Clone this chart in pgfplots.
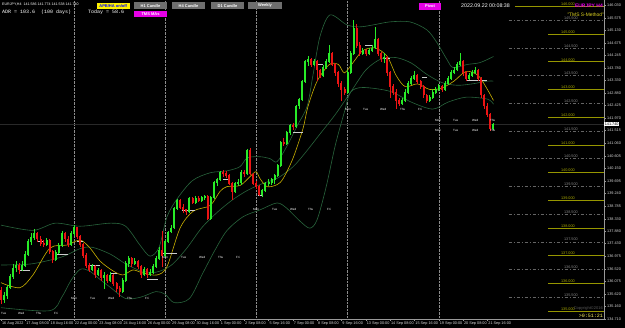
\documentclass[border=0pt]{standalone}
\usepackage{pgfplots}
\pgfplotsset{compat=1.18}
\usepackage{pgfplotstable}
\usepackage{fontspec}
\setmainfont{Liberation Sans}
\newfontfamily\monofont{Liberation Mono}
\definecolor{bull}{RGB}{40,235,40}
\definecolor{bear}{RGB}{235,20,20}
\definecolor{band}{RGB}{40,100,60}
\definecolor{maY}{RGB}{200,175,0}
\definecolor{lvl}{RGB}{150,150,0}
\definecolor{half}{RGB}{100,100,100}
\definecolor{btn}{RGB}{110,110,110}
\definecolor{mag}{RGB}{230,0,230}

\pgfplotstableread{
i O H L C
0 135.75 135.85 135.25 135.40
1 135.40 135.70 135.30 135.55
2 135.55 135.95 135.45 135.85
3 135.85 136.35 135.80 136.25
4 136.25 136.70 136.15 136.55
5 136.55 136.80 136.40 136.65
6 136.65 136.75 136.35 136.50
7 136.50 136.80 136.45 136.65
8 136.65 137.15 136.60 137.05
9 137.05 137.60 137.00 137.50
10 137.50 137.80 137.40 137.65
11 137.65 137.95 137.55 137.80
12 137.80 137.85 137.50 137.60
13 137.60 137.70 137.35 137.45
14 137.45 137.55 137.30 137.40
15 137.40 137.65 137.35 137.55
16 137.55 137.60 137.05 137.15
17 137.15 137.20 136.75 136.85
18 136.85 137.20 136.80 137.10
19 137.10 137.45 137.05 137.35
20 137.35 137.90 137.30 137.80
21 137.80 137.85 137.50 137.60
22 137.60 137.70 137.30 137.40
23 137.40 137.90 137.35 137.80
24 137.80 138.10 137.70 138.00
25 138.00 138.05 137.60 137.70
26 137.70 137.75 137.30 137.40
27 137.40 137.45 136.90 137.00
28 137.00 137.10 136.55 136.65
29 136.65 136.75 136.40 136.50
30 136.50 136.70 136.45 136.60
31 136.60 136.65 136.20 136.30
32 136.30 136.55 136.25 136.45
33 136.45 136.50 136.10 136.20
34 136.20 136.40 135.80 136.30
35 136.30 136.35 136.00 136.10
36 136.10 136.40 136.05 136.30
37 136.30 136.35 135.90 136.00
38 136.00 136.05 135.70 135.80
39 135.80 135.90 135.50 135.70
40 135.70 136.20 135.65 136.10
41 136.10 136.80 136.05 136.70
42 136.70 137.00 136.60 136.90
43 136.90 136.95 136.60 136.70
44 136.70 136.90 136.65 136.80
45 136.80 136.85 136.50 136.60
46 136.60 136.65 136.20 136.30
47 136.30 136.60 136.25 136.50
48 136.50 136.55 136.20 136.30
49 136.30 136.50 136.25 136.40
50 136.40 136.70 136.35 136.60
51 136.60 137.00 136.55 136.90
52 136.90 137.30 136.85 137.20
53 137.20 137.90 136.60 137.00
54 137.00 137.55 136.95 137.50
55 137.50 137.90 137.45 137.85
56 137.85 138.10 137.80 138.00
57 138.00 138.75 137.95 138.70
58 138.70 139.05 138.65 139.00
59 139.00 139.05 138.70 138.75
60 138.75 138.85 138.55 138.65
61 138.65 138.70 138.45 138.60
62 138.60 139.10 138.55 139.05
63 139.05 139.10 138.85 138.90
64 138.90 139.15 138.85 139.05
65 139.05 139.15 138.95 139.00
66 139.00 139.15 138.95 139.10
67 139.10 139.20 139.00 139.12
68 139.12 139.20 138.30 138.35
69 138.35 139.15 138.30 139.10
70 139.10 139.70 139.05 139.65
71 139.65 139.80 139.50 139.75
72 139.75 140.05 139.70 140.00
73 140.00 140.10 139.85 139.95
74 139.95 140.05 139.80 139.90
75 139.90 139.95 139.55 139.60
76 139.60 139.65 139.00 139.30
77 139.30 139.65 139.25 139.60
78 139.60 139.75 139.50 139.65
79 139.65 140.10 139.55 140.00
80 140.00 140.10 139.85 139.95
81 139.95 140.85 139.90 140.80
82 140.80 140.90 139.90 139.95
83 139.95 140.00 139.55 139.60
84 139.60 139.70 139.40 139.50
85 139.50 139.55 139.15 139.20
86 139.20 139.40 139.10 139.35
87 139.35 139.65 139.30 139.60
88 139.60 139.75 139.50 139.65
89 139.65 139.80 139.55 139.75
90 139.75 139.95 139.60 139.90
91 139.90 140.30 139.85 140.25
92 140.25 141.15 140.20 141.10
93 141.10 141.25 140.95 141.05
94 141.05 141.50 141.00 141.45
95 141.45 141.75 141.35 141.70
96 141.70 141.80 141.55 141.65
97 141.65 142.45 141.60 142.40
98 142.40 142.70 142.30 142.65
99 142.65 143.35 142.60 143.30
100 143.30 144.05 143.25 144.00
101 144.00 144.20 143.85 144.10
102 144.10 144.15 143.80 143.90
103 143.90 144.10 143.85 144.00
104 144.00 144.05 143.30 143.70
105 143.70 143.75 143.40 143.50
106 143.50 143.90 143.45 143.80
107 143.80 144.10 143.75 144.00
108 144.00 144.60 143.95 144.30
109 144.30 144.35 143.85 143.90
110 143.90 143.95 143.50 143.60
111 143.60 143.65 143.10 143.20
112 143.20 143.30 142.60 143.00
113 143.00 143.10 142.80 142.90
114 142.90 143.70 142.85 143.60
115 143.60 144.40 143.55 144.30
116 144.30 145.50 144.25 145.20
117 145.20 145.35 144.50 144.60
118 144.60 144.70 144.20 144.30
119 144.30 144.50 144.25 144.40
120 144.40 144.45 144.20 144.30
121 144.30 144.50 144.25 144.40
122 144.40 144.60 144.35 144.50
123 144.50 145.25 144.45 144.80
124 144.80 144.85 144.20 144.30
125 144.30 144.35 144.00 144.10
126 144.10 144.30 143.95 144.15
127 144.15 144.20 143.50 143.60
128 143.60 143.65 142.70 143.10
129 143.10 143.20 142.80 142.90
130 142.90 143.00 142.30 142.60
131 142.60 142.70 142.40 142.50
132 142.50 142.70 142.45 142.60
133 142.60 143.00 142.55 142.90
134 142.90 143.30 142.85 143.20
135 143.20 143.50 143.15 143.40
136 143.40 143.65 143.35 143.50
137 143.50 143.55 143.20 143.30
138 143.30 143.35 143.00 143.10
139 143.10 143.15 142.70 142.80
140 142.80 142.85 142.50 142.60
141 142.60 142.80 142.55 142.70
142 142.70 143.00 142.65 142.90
143 142.90 143.10 142.85 143.00
144 143.00 143.20 142.95 143.10
145 143.10 143.15 142.90 143.00
146 143.00 143.30 142.95 143.20
147 143.20 143.50 143.15 143.40
148 143.40 143.70 143.35 143.60
149 143.60 143.80 143.55 143.70
150 143.70 144.00 143.65 143.90
151 143.90 144.30 143.85 144.00
152 144.00 144.05 143.50 143.60
153 143.60 143.65 143.30 143.40
154 143.40 143.60 143.35 143.50
155 143.50 143.70 143.45 143.60
156 143.60 143.80 143.55 143.70
157 143.70 143.75 143.30 143.40
158 143.40 143.45 142.70 142.80
159 142.80 142.85 142.30 142.40
160 142.40 142.50 142.00 142.10
161 142.10 142.15 141.50 141.60
162 141.60 141.80 141.55 141.74
}\candles

\pgfplotstableread{
i v
0 138.10
10.5 137.91
17.8 138.17
26 138.06
36 138.17
41 138.06
45.7 137.38
49 136.98
52 137.30
54.6 138.40
58 139.06
63 139.71
68.8 139.99
74.3 140.06
78.6 140.21
81 140.53
85.2 140.57
88.5 140.50
90.8 140.39
94.1 140.96
97.4 141.68
100.7 142.39
102.6 143.50
104.9 144.90
108.2 145.69
113.8 145.33
118 145.26
122.4 145.33
128 145.44
134.5 145.44
140.1 145.15
143.4 144.69
146.7 144.08
148.7 143.79
153.3 143.90
157.6 143.97
162 144.19
}\upband

\pgfplotstableread{
i v
0 136.66
10 136.70
20 136.95
26 137.25
30 137.30
36 137.05
41 136.70
46 136.45
51 136.40
56 136.65
61 137.25
66 138.00
71 138.55
76 139.00
81 139.35
86 139.60
91 139.80
96 140.20
100 140.70
105 141.40
110 142.10
115 142.90
120 143.70
125 144.10
130 144.15
135 143.95
140 143.55
145 143.25
150 143.15
155 143.20
160 143.30
162 143.30
}\midband

\pgfplotstableread{
i v
0 135.12
16 135.01
20 135.50
23 136.10
26 136.50
29 136.45
33 136.10
36 135.85
41 135.45
46 135.50
51 135.70
54 135.60
57 135.30
62 135.45
66.4 136.37
70.4 137.20
74.3 137.90
79.6 138.40
85.2 138.65
90.8 138.90
94.1 138.70
98.4 138.24
101.6 137.99
104 138.30
107 139.50
110 141.00
113 142.20
115 142.90
119 143.07
128 142.93
135 142.54
142 142.29
147 142.54
153 142.72
160 142.65
162 142.47
}\lowband

\pgfplotstableread{
i v
0 136.02
6.2 135.84
10.5 136.30
16.1 137.27
21.7 137.38
26 137.56
29.3 137.27
32.6 136.80
36.8 136.45
40.1 136.30
43.4 136.48
46.7 136.37
51.3 136.30
54.6 136.60
58.9 137.99
63.2 138.60
68.8 138.81
72 139.31
74.3 139.49
78.6 139.53
81.9 139.85
83.9 140.03
85.2 139.78
87.5 139.49
90.8 139.56
92.8 139.78
96 140.50
99.3 141.57
101 142.39
104 143.30
108 143.90
111 143.90
113 143.60
116 144.00
119 144.40
123 144.50
127 144.20
130 143.50
133 143.10
137 143.20
141 143.00
145 143.05
149 143.30
153 143.65
157 143.50
160 143.00
162 142.60
}\maline

% short white level marks: start, end, price
\pgfplotstableread{
a b p
6.2 9.5 136.48
11.8 13.8 137.52
17.8 22.0 137.05
25.0 27.0 137.52
29.3 32.6 136.66
35.9 38.2 136.37
48.0 51.6 136.16
53.3 57.9 137.09
59.5 63.8 138.63
73.0 75.3 139.74
84.5 85.9 139.17
96.0 99.3 141.46
104.0 106.0 143.90
119.7 122.0 144.58
125.7 128.0 144.12
138.5 140.0 143.43
153.3 159.9 143.33
}\marks

\newcommand\mfont{\fontsize{3.8}{4.5}\selectfont}
\newcommand\dfont{\fontsize{3}{3.5}\selectfont}

\begin{document}
\begin{tikzpicture}
\fill[black] (0,0) rectangle (625pt,328pt);
\useasboundingbox (0,0) rectangle (625pt,328pt);
\begin{axis}[
  at={(0pt,9pt)}, anchor=south west,
  scale only axis, width=604pt, height=319pt,
  xmin=-0.33, xmax=198.36, ymin=134.71, ymax=146.23,
  clip=false,
  axis x line*=bottom, axis y line*=right,
  axis line style={draw=white!60!black, line width=0.5pt, -},
  tick align=outside, major tick length=2pt,
  tick style={draw=white!60!black, line width=0.4pt},
  xtick={0,8,...,160},
  xticklabels={16 Aug 2022,17 Aug 08:00,18 Aug 16:00,22 Aug 00:00,23 Aug 08:00,24 Aug 16:00,26 Aug 00:00,29 Aug 08:00,30 Aug 16:00,1 Sep 00:00,2 Sep 08:00,5 Sep 16:00,7 Sep 00:00,8 Sep 08:00,9 Sep 16:00,13 Sep 00:00,14 Sep 08:00,15 Sep 16:00,19 Sep 00:00,20 Sep 08:00,21 Sep 16:00},
  xticklabel style={font=\mfont, text=white!85!black, anchor=north west, inner sep=0.5pt, xshift=0.3pt},
  ytick={146.030,145.575,145.130,144.675,144.245,143.780,143.330,142.880,142.425,141.970,141.515,141.060,140.605,140.150,139.695,139.240,138.785,138.330,137.880,137.430,136.975,136.520,136.075,135.620,135.160,134.710},
  yticklabel style={font=\mfont, text=white!85!black, anchor=west, inner sep=1pt,
    /pgf/number format/.cd, fixed, fixed zerofill, precision=3, 1000 sep={}, assume math mode=true},
]
% week separators
\foreach \w in {24,54,84,114,144}{
  \edef\tmp{\noexpand\draw[white!55!black, densely dotted, line width=0.4pt] (axis cs:\w,134.71) -- (axis cs:\w,146.23);}\tmp
}
% current price line
\addplot[white!16!black, line width=0.4pt] coordinates {(-0.33,141.74) (198.36,141.74)};
% level lines
\addplot[lvl, line width=0.6pt] coordinates {(169,146) (198.36,146)};
\foreach \p in {135,136,...,145}{
  \edef\tmp{\noexpand\addplot[lvl, line width=0.6pt] coordinates {(180,\p) (198.36,\p)};}\tmp
}
\foreach \p in {135.5,136.5,137.5,138.5,139.5,140.5,141.5,142.5,143.5,144.5,145.5}{
  \edef\tmp{\noexpand\addplot[half, line width=0.4pt, dash pattern=on 3pt off 2pt on 1pt off 2pt] coordinates {(167,\p) (198.36,\p)};}\tmp
}
% bands and MA
\addplot[band, line width=0.6pt, smooth] table[x=i,y=v] {\upband};
\addplot[band, line width=0.6pt, smooth] table[x=i,y=v] {\midband};
\addplot[band, line width=0.6pt, smooth] table[x=i,y=v] {\lowband};
\addplot[maY, line width=0.6pt, smooth] table[x=i,y=v] {\maline};
% short white marks
\addplot[white!80!black, draw=none, mark=none, forget plot,
  error bars/.cd, x dir=both, x explicit, error mark=none,
  error bar style={white!80!black, line width=0.5pt}]
  table[x expr=(\thisrow{a}+\thisrow{b})/2, y=p, x error expr=(\thisrow{b}-\thisrow{a})/2] {\marks};
% wicks
\addplot[bull, draw=none, mark=none, forget plot,
  x filter/.expression={\thisrow{C}>=\thisrow{O} ? x : nan},
  error bars/.cd, y dir=both, y explicit, error mark=none,
  error bar style={bull, line width=0.55pt}]
  table[x=i, y expr=(\thisrow{H}+\thisrow{L})/2, y error expr=(\thisrow{H}-\thisrow{L})/2] {\candles};
\addplot[bear, draw=none, mark=none, forget plot,
  x filter/.expression={\thisrow{C}<\thisrow{O} ? x : nan},
  error bars/.cd, y dir=both, y explicit, error mark=none,
  error bar style={bear, line width=0.55pt}]
  table[x=i, y expr=(\thisrow{H}+\thisrow{L})/2, y error expr=(\thisrow{H}-\thisrow{L})/2] {\candles};
% bodies
\addplot[bull, draw=none, mark=none, forget plot,
  x filter/.expression={\thisrow{C}>=\thisrow{O} ? x : nan},
  error bars/.cd, y dir=both, y explicit, error mark=none,
  error bar style={bull, line width=2pt}]
  table[x=i, y expr=(\thisrow{O}+\thisrow{C})/2, y error expr=abs(\thisrow{C}-\thisrow{O})/2+0.015] {\candles};
\addplot[bear, draw=none, mark=none, forget plot,
  x filter/.expression={\thisrow{C}<\thisrow{O} ? x : nan},
  error bars/.cd, y dir=both, y explicit, error mark=none,
  error bar style={bear, line width=2pt}]
  table[x=i, y expr=(\thisrow{O}+\thisrow{C})/2, y error expr=abs(\thisrow{C}-\thisrow{O})/2+0.015] {\candles};
% current price label
\node[fill=white, text=black, font=\mfont, inner sep=0.6pt, anchor=west] at (axis cs:198.36,141.74) {141.740};
% level labels
\foreach \p in {135,136,...,146}{
  \edef\tmp{\noexpand\node[text=lvl!80!yellow, font=\noexpand\mfont, anchor=south west, inner sep=0.5pt] at (axis cs:184,\p) {\p.000};}\tmp
}
\foreach \p/\q in {135.5/135.500,136.5/136.500,137.5/137.500,138.5/138.500,139.5/139.500,140.5/140.500,141.5/141.500,142.5/142.500,143.5/143.500,144.5/144.500,145.5/145.500}{
  \edef\tmp{\noexpand\node[text=half!80!white, font=\noexpand\mfont, anchor=south west, inner sep=0.5pt] at (axis cs:185,\p) {\q};}\tmp
}
\end{axis}
% day labels
\foreach \x/\t in {1/Tue,18/Wed,36/Thu,54/Fri}{\node[anchor=west,text=white,font=\dfont,inner sep=0] at (\x pt,15pt) {\t};}
\foreach \x/\t in {71/Mon,90/Tue,108/Wed,127/Thu,145/Fri}{\node[anchor=west,text=white,font=\dfont,inner sep=0] at (\x pt,30pt) {\t};}
\foreach \x/\t in {162/Mon,181/Tue,199/Wed,218/Thu,236/Fri}{\node[anchor=west,text=white,font=\dfont,inner sep=0] at (\x pt,71pt) {\t};}
\foreach \x/\t in {253/Mon,272/Tue,290/Wed,308/Thu,327/Fri}{\node[anchor=west,text=white,font=\dfont,inner sep=0] at (\x pt,119pt) {\t};}
\foreach \x/\t in {345/Mon,363/Tue,380/Wed,400/Thu,418/Fri}{\node[anchor=west,text=white,font=\dfont,inner sep=0] at (\x pt,219pt) {\t};}
\foreach \x/\t in {435/Mon,453/Tue,472/Wed,490/Thu}{
  \node[anchor=west,text=white,font=\dfont,inner sep=0] at (\x pt,208pt) {\t};
  \node[anchor=west,text=white,font=\dfont,inner sep=0] at (\x pt,198pt) {\t};}
% top-left info
\node[anchor=west, text=white, font=\fontsize{3.6}{4}\selectfont, inner sep=0] at (2pt,323.5pt) {EURJPY,H4\ \ 141.586 141.774 141.538 141.740};
\node[anchor=west, text=white, font=\monofont\fontsize{5}{5}\selectfont, inner sep=0] at (2pt,316pt) {ADR = 103.6\ \ (100 days)};
\node[anchor=west, text=white, font=\monofont\fontsize{5}{5}\selectfont, inner sep=0] at (88pt,316pt) {Today = 58.6};
% buttons
\fill[yellow] (97pt,319pt) rectangle (129.5pt,325pt);
\node[text=blue, font=\bfseries\fontsize{4}{5}\selectfont, inner sep=0] at (113.2pt,322pt) {APB/HA on/off};
\foreach \a/\b/\t in {134/167/H1 Candle,172/205/H4 Candle,211/244/D1 Candle,248/282/Weekly}{
  \fill[btn] (\a pt,319pt) rectangle (\b pt,325.5pt);
  \node[text=white, font=\bfseries\fontsize{4}{5}\selectfont, inner sep=0] at ({(\a+\b)/2*1pt},322.2pt) {\t};
}
\fill[mag] (134pt,311pt) rectangle (167pt,317pt);
\node[text=white, font=\bfseries\fontsize{4}{5}\selectfont, inner sep=0] at (150.5pt,314pt) {TMS MAs};
\fill[mag] (419pt,318pt) rectangle (441pt,325pt);
\node[text=white, font=\bfseries\fontsize{4}{5}\selectfont, inner sep=0] at (430pt,321.5pt) {Pivot};
\node[anchor=west, text=white, font=\fontsize{5.3}{6}\selectfont, inner sep=0] at (461pt,322pt) {2022.09.22 00:08:38};
\node[anchor=east, text=mag, font=\bfseries\fontsize{5}{6}\selectfont, inner sep=0] at (603pt,322pt) {EURJPY H4};
\node[anchor=east, text=yellow!85!black, font=\fontsize{4.9}{6}\selectfont, inner sep=0] at (604pt,313pt) {"TMS S-Method"};
% bottom right
\node[anchor=east, text=white!35!black, font=\fontsize{4}{5}\selectfont, inner sep=0] at (603pt,20pt) {Copyright\textcopyright2016};
\node[anchor=east, text=yellow!60!white, font=\monofont\fontsize{5}{5}\selectfont, inner sep=0] at (603pt,12pt) {>0:51:21};
\end{tikzpicture}
\end{document}
